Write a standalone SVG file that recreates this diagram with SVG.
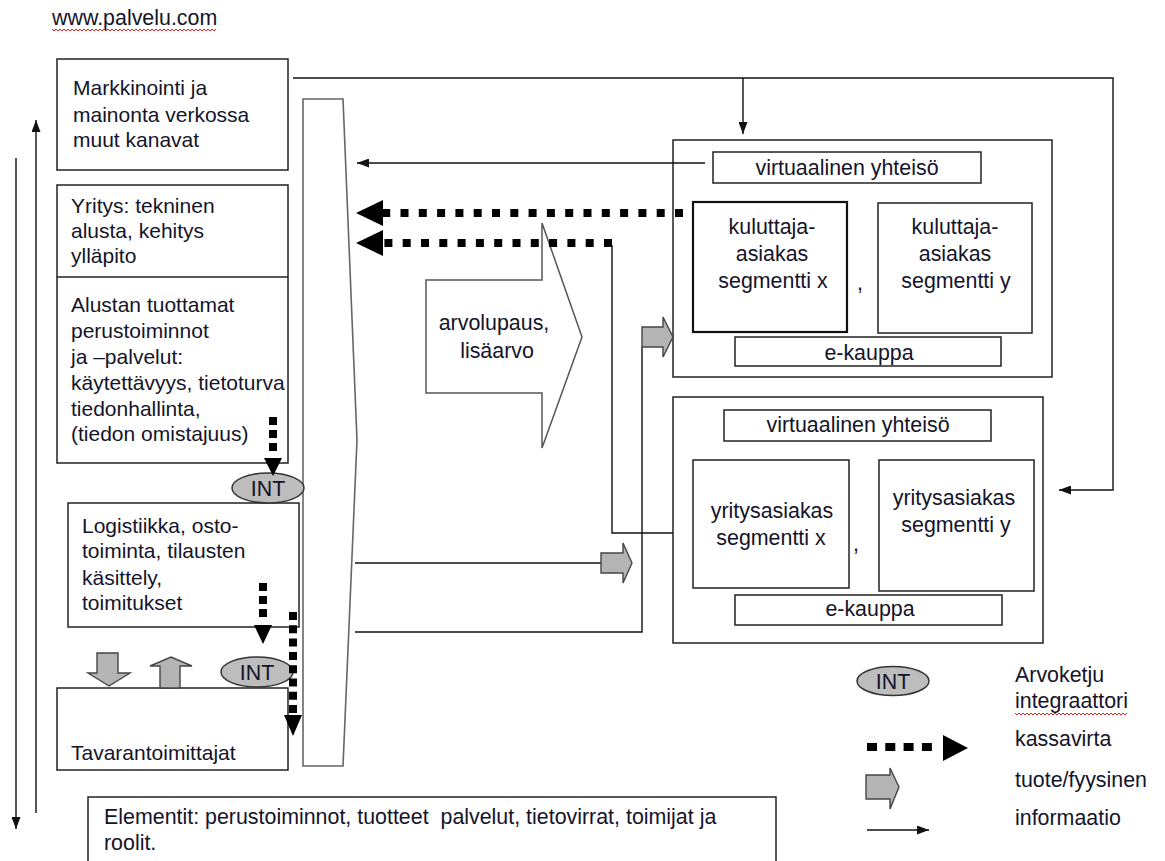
<svg xmlns="http://www.w3.org/2000/svg" width="1165" height="861" viewBox="0 0 1165 861">
<defs>
<style>
text{font-family:"Liberation Sans",Arial,sans-serif;font-size:21.4px;fill:#14142a}
.l{font-size:21px}
.c{text-anchor:middle}
.box{fill:#fff;stroke:#222;stroke-width:1.5}
.ln{fill:none;stroke:#111;stroke-width:1.4}
.dot{fill:none;stroke:#000;stroke-width:8}
.head{fill:#000}
.blk{fill:#b4b4b4;stroke:#444;stroke-width:1.4}
.int{fill:#bdbdbd;stroke:#333;stroke-width:1.5}
.sq{fill:none;stroke:#e02020;stroke-width:1}
</style>
<marker id="ah" viewBox="0 0 12 9" markerWidth="12" markerHeight="9" refX="12" refY="4.5" orient="auto" markerUnits="userSpaceOnUse">
<path d="M0,0 L12,4.5 L0,9 z" fill="#111"/>
</marker>
</defs>
<rect width="1165" height="861" fill="#fff"/>

<g id="title">
<text x="52" y="25">www.palvelu.com</text>
<polyline class="sq" points="52,29 54,31 56,29 58,31 60,29 62,31 64,29 66,31 68,29 70,31 72,29 74,31 76,29 78,31 80,29 82,31 84,29 86,31 88,29 90,31 92,29 94,31 96,29 98,31 100,29 102,31 104,29 106,31 108,29 110,31 112,29 114,31 116,29 118,31 120,29 122,31 124,29 126,31 128,29 130,31 132,29 134,31 136,29 138,31 140,29 142,31 144,29 146,31 148,29 150,31 152,29 154,31 156,29 158,31 160,29 162,31 164,29 166,31 168,29 170,31 172,29 174,31 176,29 178,31 180,29 182,31 184,29 186,31 188,29 190,31 192,29 194,31 196,29 198,31 200,29 202,31 204,29 206,31 208,29 210,31 212,29 214,31 216,29"/>
</g>

<g id="platform">
<polygon points="303,99 343,99 357,440 343,766 303,766" fill="#fff" stroke="#666" stroke-width="1.6"/>
</g>

<g id="arvolupaus">
<polygon points="426,280 542,280 542,223 582,337 542,448 542,393 426,393" fill="#fff" stroke="#555" stroke-width="1.5"/>
<text class="c" x="494" y="330">arvolupaus,</text>
<text class="c" x="497" y="358">lisäarvo</text>
</g>

<g id="markkinointi">
<rect class="box" x="57" y="59" width="231" height="111"/>
<text class="l" x="73" y="95">Markkinointi ja</text>
<text class="l" x="73" y="122">mainonta verkossa</text>
<text class="l" x="73" y="147">muut kanavat</text>
</g>

<g id="yritys">
<rect class="box" x="57" y="185" width="231" height="278"/>
<line x1="57" y1="277" x2="288" y2="277" stroke="#222" stroke-width="1.5"/>
<text class="l" x="71" y="213">Yritys: tekninen</text>
<text class="l" x="71" y="238">alusta, kehitys</text>
<text class="l" x="71" y="263">ylläpito</text>
</g>

<g id="alustan">
<text class="l" x="71" y="312">Alustan tuottamat</text>
<text class="l" x="71" y="338">perustoiminnot</text>
<text class="l" x="71" y="364">ja –palvelut:</text>
<text class="l" x="71" y="390">käytettävyys, tietoturva</text>
<text class="l" x="71" y="416">tiedonhallinta,</text>
<text class="l" x="71" y="441">(tiedon omistajuus)</text>
</g>

<g id="logistiikka">
<rect class="box" x="68" y="503" width="231" height="124"/>
<text class="l" x="82" y="533">Logistiikka, osto-</text>
<text class="l" x="82" y="558">toiminta, tilausten</text>
<text class="l" x="82" y="585">käsittely,</text>
<text class="l" x="82" y="610">toimitukset</text>
</g>

<g id="tavarantoimittajat">
<rect class="box" x="57" y="688" width="231" height="82"/>
<text class="l" x="71" y="760">Tavarantoimittajat</text>
</g>

<g id="int1">
<ellipse class="int" cx="268" cy="488" rx="36" ry="15"/>
<text class="c" x="268" y="496">INT</text>
</g>

<g id="int2">
<ellipse class="int" cx="257" cy="672" rx="36" ry="15"/>
<text class="c" x="257" y="680">INT</text>
</g>

<g id="kuluttaja-box">
<rect class="box" x="673" y="140" width="379" height="237"/>
<rect class="box" x="713" y="152" width="268" height="31"/>
<text class="c" x="847" y="175">virtuaalinen yhteisö</text>
<rect x="693" y="202" width="154" height="130" fill="#fff" stroke="#111" stroke-width="2.2"/>
<text class="c" x="772" y="234">kuluttaja-</text>
<text class="c" x="772" y="261">asiakas</text>
<text class="c" x="773" y="288">segmentti x</text>
<text x="857" y="290">,</text>
<rect class="box" x="878" y="203" width="154" height="130"/>
<text class="c" x="955" y="234">kuluttaja-</text>
<text class="c" x="955" y="261">asiakas</text>
<text class="c" x="956" y="288">segmentti y</text>
<rect class="box" x="735" y="337" width="266" height="29"/>
<text class="c" x="869" y="360">e-kauppa</text>
</g>

<g id="yritys-box">
<rect class="box" x="673" y="397" width="370" height="246"/>
<rect class="box" x="724" y="410" width="267" height="31"/>
<text class="c" x="858" y="432">virtuaalinen yhteisö</text>
<rect class="box" x="693" y="460" width="156" height="128"/>
<text class="c" x="772" y="518">yritysasiakas</text>
<text class="c" x="771" y="545">segmentti x</text>
<text x="853" y="551">,</text>
<rect class="box" x="879" y="460" width="155" height="131"/>
<text class="c" x="954" y="505">yritysasiakas</text>
<text class="c" x="956" y="532">segmentti y</text>
<rect class="box" x="735" y="595" width="267" height="30"/>
<text class="c" x="870" y="616">e-kauppa</text>
</g>

<g id="elementit">
<rect class="box" x="88" y="797" width="688" height="80"/>
<text x="104" y="824" xml:space="preserve">Elementit: perustoiminnot, tuotteet  palvelut, tietovirrat, toimijat ja</text>
<text x="104" y="850">roolit.</text>
</g>

<g id="connectors">
<polyline class="ln" points="293,78 1113,78 1113,490 1059,490" marker-end="url(#ah)"/>
<polyline class="ln" points="743,78 743,134" marker-end="url(#ah)"/>
<line class="ln" x1="705" y1="163" x2="357" y2="163" marker-end="url(#ah)"/>
<line class="ln" x1="36" y1="813" x2="36" y2="120" marker-end="url(#ah)"/>
<line class="ln" x1="16" y1="158" x2="16" y2="829" marker-end="url(#ah)"/>
<polyline class="ln" points="612,245 612,533 673,533"/>
<line class="ln" x1="355" y1="563" x2="601" y2="563"/>
<polyline class="ln" points="355,632 642,632 642,347"/>

<line class="dot" x1="683" y1="213" x2="383" y2="213" stroke-dasharray="8 10.3"/>
<polygon class="head" points="383,200 383,226 356,213"/>
<line class="dot" x1="612" y1="243" x2="383" y2="243" stroke-dasharray="8 10.3"/>
<polygon class="head" points="383,230 383,256 356,243"/>
<line class="dot" x1="273" y1="417" x2="273" y2="452" stroke-width="7" stroke-dasharray="8 5"/>
<polygon class="head" points="264,458 282,458 273,476"/>
<line class="dot" x1="263" y1="583" x2="263" y2="617" stroke-width="7" stroke-dasharray="8 5"/>
<polygon class="head" points="254,625 272,625 263,644"/>
<line class="dot" x1="293" y1="612" x2="293" y2="714" stroke-width="7" stroke-dasharray="8 5.3"/>
<polygon class="head" points="284,715 302,715 293,736"/>

<polygon class="blk" points="642,327 663,327 663,317 673,337 663,357 663,347 642,347"/>
<polygon class="blk" points="601,553 623,553 623,543 632,563 623,583 623,573 601,573"/>
<polygon class="blk" points="97,653 118,653 118,673 130,673 109,686 88,673 97,673"/>
<polygon class="blk" points="160,688 180,688 180,666 192,666 171,657 150,666 160,666"/>
</g>

<g id="legend">
<ellipse class="int" cx="893" cy="681" rx="36" ry="14.5"/>
<text class="c" x="893" y="689">INT</text>
<text x="1015" y="682">Arvoketju</text>
<text x="1015" y="708">integraattori</text>
<polyline class="sq" points="1015,713 1017,715 1019,713 1021,715 1023,713 1025,715 1027,713 1029,715 1031,713 1033,715 1035,713 1037,715 1039,713 1041,715 1043,713 1045,715 1047,713 1049,715 1051,713 1053,715 1055,713 1057,715 1059,713 1061,715 1063,713 1065,715 1067,713 1069,715 1071,713 1073,715 1075,713 1077,715 1079,713 1081,715 1083,713 1085,715 1087,713 1089,715 1091,713 1093,715 1095,713 1097,715 1099,713 1101,715 1103,713 1105,715 1107,713 1109,715 1111,713 1113,715 1115,713 1117,715 1119,713 1121,715 1123,713 1125,715 1127,713"/>
<line class="dot" x1="867" y1="747" x2="933" y2="747" stroke-dasharray="10 8.3"/>
<polygon class="head" points="943,735 943,761 968,748"/>
<text x="1015" y="746">kassavirta</text>
<polygon class="blk" points="866,775 890,775 890,768 899,787 890,809 890,799 866,799"/>
<text x="1015" y="787">tuote/fyysinen</text>
<line class="ln" x1="867" y1="830" x2="929" y2="830" marker-end="url(#ah)"/>
<text x="1015" y="825">informaatio</text>
</g>
</svg>
